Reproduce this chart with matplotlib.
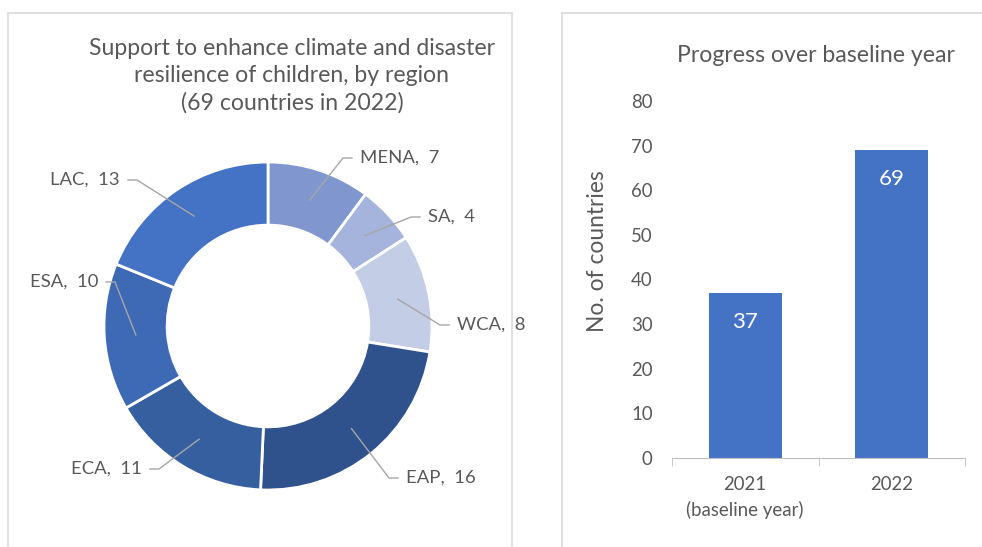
import numpy as np
import matplotlib
matplotlib.use("Agg")
import matplotlib.pyplot as plt
from matplotlib.patches import Rectangle

plt.rcParams['font.family'] = ['Lato', 'DejaVu Sans']

# donut data (clockwise from 12 o'clock)
regions = ['MENA', 'SA', 'WCA', 'EAP', 'ECA', 'ESA', 'LAC']
region_counts = [7, 4, 8, 16, 11, 10, 13]
region_colors = ['#7F96CF', '#A5B4DC', '#C3CDE6', '#2F518C', '#365F9F', '#3D69B5', '#4472C4']

# bar data
years = ['2021\n(baseline year)', '2022']
countries = [37, 69]

TXT = '#595959'
W, H = 982, 547

fig = plt.figure(figsize=(W / 100, H / 100), dpi=100)

# full-figure axes in pixel units for the donut + panel frames
ax = fig.add_axes([0, 0, 1, 1])
cx, cy, R = 268, H - 326, 164
wedges, _ = ax.pie(region_counts, colors=region_colors, startangle=90, counterclock=False,
                   center=(cx, cy), radius=R,
                   wedgeprops=dict(width=R * 0.385, edgecolor='white', linewidth=2))
ax.set_xlim(0, W)
ax.set_ylim(0, H)
ax.axis('off')

ax.add_patch(Rectangle((8, -20), 504, H - 13 + 20, fill=False, edgecolor='#D9D9D9', lw=1.2, clip_on=False))
ax.add_patch(Rectangle((562, -20), 440, H - 13 + 20, fill=False, edgecolor='#D9D9D9', lw=1.2, clip_on=False))

ax.text(292, H - 76, 'Support to enhance climate and disaster\nresilience of children, by region\n(69 countries in 2022)',
        ha='center', va='center', fontsize=16.6, color=TXT, linespacing=1.36)

# label anchor points: end of leader line (x, y from top), text side
label_pos = {
    'MENA': (352, 158, 'left'),
    'SA': (420, 217, 'left'),
    'WCA': (449, 325, 'left'),
    'EAP': (398, 478, 'left'),
    'ECA': (150, 469, 'right'),
    'ESA': (106, 282, 'right'),
    'LAC': (128, 180, 'right'),
}
mid_r = R - R * 0.385 / 2
for w, name, n in zip(wedges, regions, region_counts):
    ang = np.deg2rad((w.theta1 + w.theta2) / 2)
    px, py = cx + mid_r * np.cos(ang), cy + mid_r * np.sin(ang)
    ex, ey, side = label_pos[name]
    ey = H - ey
    sx = ex - 9 if side == 'left' else ex + 9
    ax.plot([px, sx, ex], [py, ey, ey], color='#A6A6A6', lw=1)
    tx = ex + 8 if side == 'left' else ex - 8
    ax.text(tx, ey, f'{name},  {n}', ha=side, va='center', fontsize=13.3, color=TXT)

# bar chart
left, right, bottom, top = 672, 965, 458, 101
bx = fig.add_axes([left / W, (H - bottom) / H, (right - left) / W, (bottom - top) / H])
xs = np.arange(len(years))
bars = bx.bar(xs, countries, width=0.5, color='#4472C4')
bx.set_xlim(-0.5, len(years) - 0.5)
bx.set_ylim(0, 80)
bx.set_yticks(range(0, 81, 10))
bx.set_xticks([-0.5, 0.5, 1.5], minor=True)
bx.set_xticks(xs)
bx.set_xticklabels(years, linespacing=1.5)
for s in ['top', 'right', 'left']:
    bx.spines[s].set_visible(False)
bx.spines['bottom'].set_color('#BFBFBF')
bx.tick_params(axis='y', length=0, labelsize=13.4, labelcolor=TXT, pad=14)
bx.tick_params(axis='x', which='major', length=0, labelsize=13.4, labelcolor=TXT, pad=13)
bx.tick_params(axis='x', which='minor', length=6, color='#BFBFBF')
for b, v in zip(bars, countries):
    bx.annotate(str(v), (b.get_x() + b.get_width() / 2, v), xytext=(0, -21),
                textcoords='offset points', ha='center', va='center',
                color='white', fontsize=16)

fig.text(598 / W, 1 - 251 / H, 'No. of countries', rotation=90, ha='center', va='center',
         fontsize=16.4, color=TXT)
fig.text(816 / W, 1 - 55 / H, 'Progress over baseline year', ha='center', va='center',
         fontsize=16.6, color=TXT)

fig.savefig('out.png', dpi=100)
